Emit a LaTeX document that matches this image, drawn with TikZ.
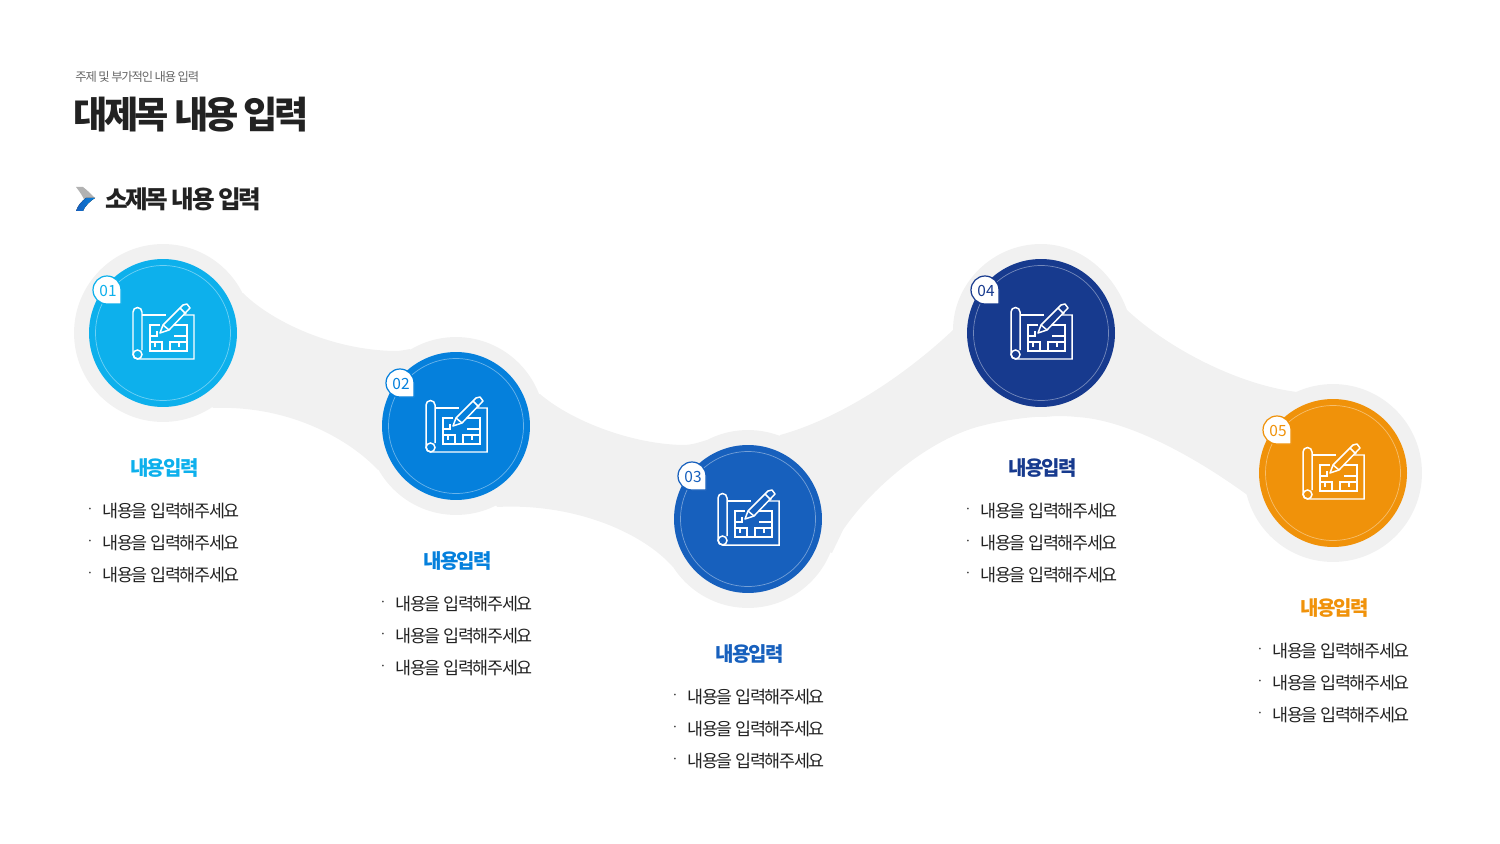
\documentclass[tikz,border=0pt]{standalone}
\usepackage{fontspec}
\setmainfont{Noto Sans CJK KR}
\usetikzlibrary{positioning,calc}
\definecolor{bandgray}{HTML}{F1F1F1}
\definecolor{inkdark}{HTML}{222222}
\definecolor{stepa}{HTML}{0DB0EC}
\definecolor{stepb}{HTML}{0580DC}
\definecolor{stepc}{HTML}{1760BD}
\definecolor{stepd}{HTML}{173A8E}
\definecolor{stepe}{HTML}{F0920A}
\tikzset{
  disc/.style={circle, minimum size=2.96cm, inner sep=0pt},
  halo/.style={fill=bandgray, circle, inner sep=0pt},
  headtxt/.style={font=\fontsize{11.4}{14}\selectfont\bfseries\addfontfeatures{LetterSpace=-9}},
  itemtxt/.style={anchor=west, inner sep=0pt, text=inkdark, font=\fontsize{9.9}{12}\selectfont\addfontfeatures{LetterSpace=-7.5}},
  numtxt/.style={inner sep=0pt, font=\fontsize{8.8}{10}\selectfont},
  iconline/.style={white, line width=0.85pt},
  planicon/.pic={
    % scroll and sheet
    \draw[iconline] (-21,17) -- (-21,-21) arc[start angle=0, end angle=-180, radius=4.5] -- (-30,21) arc[start angle=180, end angle=90, radius=5] -- (31,26) -- (31,-18) -- (20,-18);
    \draw[iconline] (-21,-18) -- (3,-18);
    \draw[iconline] (-25.5,21.5) circle[radius=4.5];
    % floor plan
    \draw[iconline] (-3,-8) -- (-13,-8) -- (-13,18) -- (24,18) -- (24,-8) -- (11,-8);
    \draw[iconline] (-13,3) -- (-6,3) -- (-6,-2) (-13,9) -- (-1,9) -- (-1,18) (-8,9) -- (-8,14);
    \draw[iconline] (24,3) -- (11,3) (24,9) -- (7,9) -- (7,18) (16,9) -- (16,14);
    % pencil
    \draw[iconline, line join=round] (-3,0) -- (0,-8) -- (20,-28) -- (24,-29) -- (27,-25) -- (6,-3) -- cycle;
    \draw[iconline] (0,-8) -- (6,-3) (17,-25) -- (23,-19);
  }
}
\begin{document}
\begin{tikzpicture}[x=0.02cm, y=-0.02cm]
    \useasboundingbox (0,0) rectangle (1500,844);

    % Band behind the steps
    \fill[bandgray] (243,293)
      .. controls (270,320) and (330,350) .. (395,351)
      .. controls (400,351) and (405,350) .. (410,349)
      -- (456,420) -- (540,394)
      .. controls (570,420) and (630,444) .. (683,445)
      .. controls (692,445) and (700,442) .. (707,440)
      -- (748,500) -- (780,435)
      .. controls (835,420) and (900,380) .. (953,330)
      .. controls (953,284) and (992,244) .. (1041,244)
      .. controls (1080,244) and (1113,272) .. (1127,310)
      .. controls (1170,350) and (1240,385) .. (1297,392)
      -- (1333,473) -- (1250,497)
      .. controls (1200,460) and (1130,420) .. (1077,417)
      .. controls (1050,414) and (1010,418) .. (977,427)
      .. controls (925,442) and (870,490) .. (843,530)
      -- (832,553) -- (748,519) -- (673,567)
      .. controls (640,530) and (570,503) .. (497,507)
      -- (456,426) -- (378,470)
      .. controls (350,440) and (290,405) .. (213,408)
      -- (163,333) -- cycle;

    % Steps
    \foreach \cx/\cy/\stepcol/\num/\hr in {163/333/stepa/01/89, 456/426/stepb/02/89, 748/519/stepc/03/89, 1041/333/stepd/04/84, 1333/473/stepe/05/89} {
      \node[halo, minimum size=\hr*0.04cm] (halo\num) at (\cx,\cy) {};
      \node[disc, fill=\stepcol] (disc\num) at (\cx,\cy) {};
      \node[disc, minimum size=2.7cm, draw=white!40!\stepcol, line width=0.4pt] (ring\num) at (\cx,\cy) {};
      \pic at (\cx,\cy) {planicon};
      \draw[\stepcol, fill=white, line width=0.7pt, line join=round]
        (\cx-42,\cy-42) -- (\cx-42,\cy-29) -- (\cx-56,\cy-29)
        arc[start angle=90, end angle=360, radius=14] -- cycle;
      \node[numtxt, text=\stepcol] (num\num) at (\cx-55,\cy-42) {\num};
      \node[headtxt, text=\stepcol] (head\num) at (\cx+1.5,\cy+135) {내용입력};
      \foreach \off [count=\i] in {178,210,242} {
        \node[inner sep=0pt, text=inkdark, font=\fontsize{7}{8}\selectfont] (dot\num\i) at (\cx-73,\cy+\off) {·};
        \node[itemtxt] (item\num\i) at (\cx-61,\cy+\off) {내용을 입력해주세요};
      }
    }

    % Titles
    \node[anchor=west, inner sep=0pt, text=black!60, font=\fontsize{7}{8}\selectfont\addfontfeatures{LetterSpace=-9.5}] (topic) at (75,77) {주제 및 부가적인 내용 입력};
    \node[anchor=west, inner sep=0pt, text=inkdark, font=\fontsize{21.2}{26}\selectfont\bfseries\addfontfeatures{LetterSpace=-10}] (bigtitle) at (73.5,115) {대제목 내용 입력};
    \node[anchor=west, inner sep=0pt, text=inkdark, font=\fontsize{14}{17}\selectfont\bfseries\addfontfeatures{LetterSpace=-9.5}] (subtitle) at (105,199) {소제목 내용 입력};

    % Chevron
    \fill[black!30] (76,187) -- (83,187) .. controls (87,190) and (91,194) .. (95,198) -- (86,204) .. controls (84,198) and (80,192) .. (76,187) -- cycle;
    \fill[left color=stepc, right color=stepb] (95,198) .. controls (90,201) and (85,206) .. (83,211) -- (76,211) .. controls (78,205) and (82,201) .. (86,198) -- cycle;
\end{tikzpicture}
\end{document}
